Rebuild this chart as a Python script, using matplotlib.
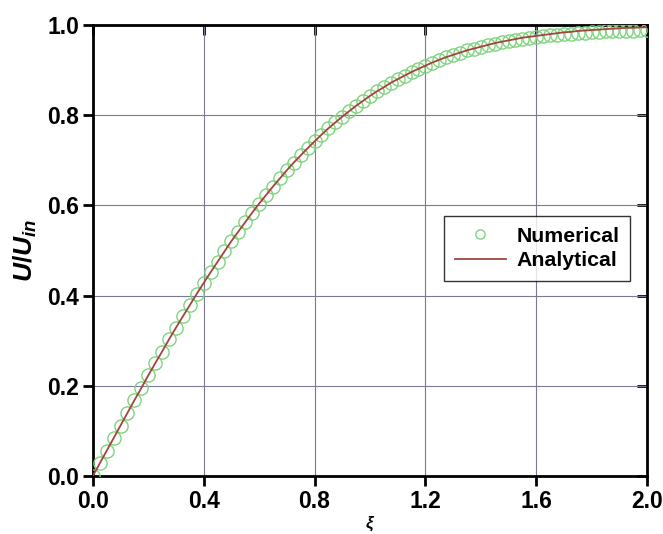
import numpy as np
import matplotlib
matplotlib.use('Agg')
import matplotlib.pyplot as plt

# values (xi step 0.025)
xi = [round(0.025 * i, 3) for i in range(81)]
u_analytical = [0.000, 0.028, 0.056, 0.084, 0.112, 0.140, 0.168, 0.195, 0.223, 0.250,
                0.276, 0.303, 0.329, 0.354, 0.379, 0.404, 0.428, 0.452, 0.475, 0.498,
                0.521, 0.542, 0.563, 0.584, 0.604, 0.623, 0.642, 0.660, 0.678, 0.695,
                0.711, 0.727, 0.742, 0.757, 0.771, 0.784, 0.797, 0.809, 0.821, 0.832,
                0.843, 0.853, 0.862, 0.872, 0.880, 0.888, 0.896, 0.903, 0.910, 0.917,
                0.923, 0.929, 0.934, 0.939, 0.944, 0.948, 0.952, 0.956, 0.960, 0.963,
                0.966, 0.969, 0.972, 0.974, 0.976, 0.978, 0.980, 0.982, 0.984, 0.985,
                0.987, 0.988, 0.989, 0.990, 0.991, 0.992, 0.993, 0.994, 0.994, 0.995,
                0.995]
u_numerical = [0.000, 0.028, 0.056, 0.084, 0.112, 0.140, 0.168, 0.195, 0.223, 0.250,
               0.276, 0.303, 0.329, 0.354, 0.379, 0.404, 0.428, 0.452, 0.475, 0.498,
               0.521, 0.542, 0.563, 0.584, 0.604, 0.623, 0.642, 0.660, 0.678, 0.695,
               0.711, 0.727, 0.742, 0.757, 0.771, 0.784, 0.797, 0.809, 0.821, 0.832,
               0.843, 0.853, 0.862, 0.872, 0.880, 0.888, 0.896, 0.903, 0.910, 0.917,
               0.923, 0.929, 0.934, 0.939, 0.944, 0.948, 0.952, 0.955, 0.959, 0.962,
               0.965, 0.967, 0.970, 0.972, 0.973, 0.975, 0.977, 0.978, 0.980, 0.981,
               0.982, 0.983, 0.984, 0.985, 0.986, 0.987, 0.987, 0.988, 0.988, 0.989,
               0.989]
x_ticks = [0.0, 0.4, 0.8, 1.2, 1.6, 2.0]
y_ticks = [0.0, 0.2, 0.4, 0.6, 0.8, 1.0]

plt.rcParams['font.family'] = ['Liberation Sans', 'DejaVu Sans']
plt.rcParams['font.weight'] = 'bold'
plt.rcParams['mathtext.fontset'] = 'custom'
plt.rcParams['mathtext.it'] = 'Liberation Sans:italic:bold'
plt.rcParams['mathtext.rm'] = 'Liberation Sans:bold'

fig = plt.figure(figsize=(6.63, 5.34), dpi=100)
ax = fig.add_axes([0.140, 0.1086, 0.836, 0.8444])

ax.plot(xi, u_numerical, 'o', mfc='none', mec='#7fd47f', ms=9.5, mew=1.0,
        label='Numerical', zorder=3)
ax.plot(xi, u_analytical, '-', color='#a3443c', lw=1.3, label='Analytical', zorder=4)

ax.set_xlim(0, 2.0)
ax.set_ylim(0, 1.0)
ax.set_xticks(x_ticks)
ax.set_yticks(y_ticks)
ax.set_xticklabels(['%.1f' % v for v in x_ticks])
ax.set_yticklabels(['%.1f' % v for v in y_ticks])
ax.grid(True, color='#7a7a96', lw=0.8)
ax.set_axisbelow(True)

for s in ax.spines.values():
    s.set_linewidth(2)
ax.tick_params(axis='both', which='major', direction='out', length=7, width=2,
               labelsize=16.5, pad=3)
ax2 = ax.secondary_xaxis('top')
ax2.set_xticks(x_ticks)
ax2.tick_params(direction='in', length=7, width=2, labeltop=False)
ay2 = ax.secondary_yaxis('right')
ay2.set_yticks(y_ticks)
ay2.tick_params(direction='in', length=7, width=2, labelright=False)

ax.set_xlabel(r'$\xi$', fontsize=12, labelpad=1)
ax.set_ylabel(r'$U/U_{in}$', fontsize=19, labelpad=6)

leg = ax.legend(loc='center right', bbox_to_anchor=(0.969, 0.505), fontsize=15.3,
                frameon=True, fancybox=False, edgecolor='black', markerscale=0.7,
                handlelength=2.4, handletextpad=0.5, borderpad=0.5,
                labelspacing=0.25, borderaxespad=0)
leg.get_frame().set_linewidth(1.0)

fig.savefig('out.png', dpi=100)
